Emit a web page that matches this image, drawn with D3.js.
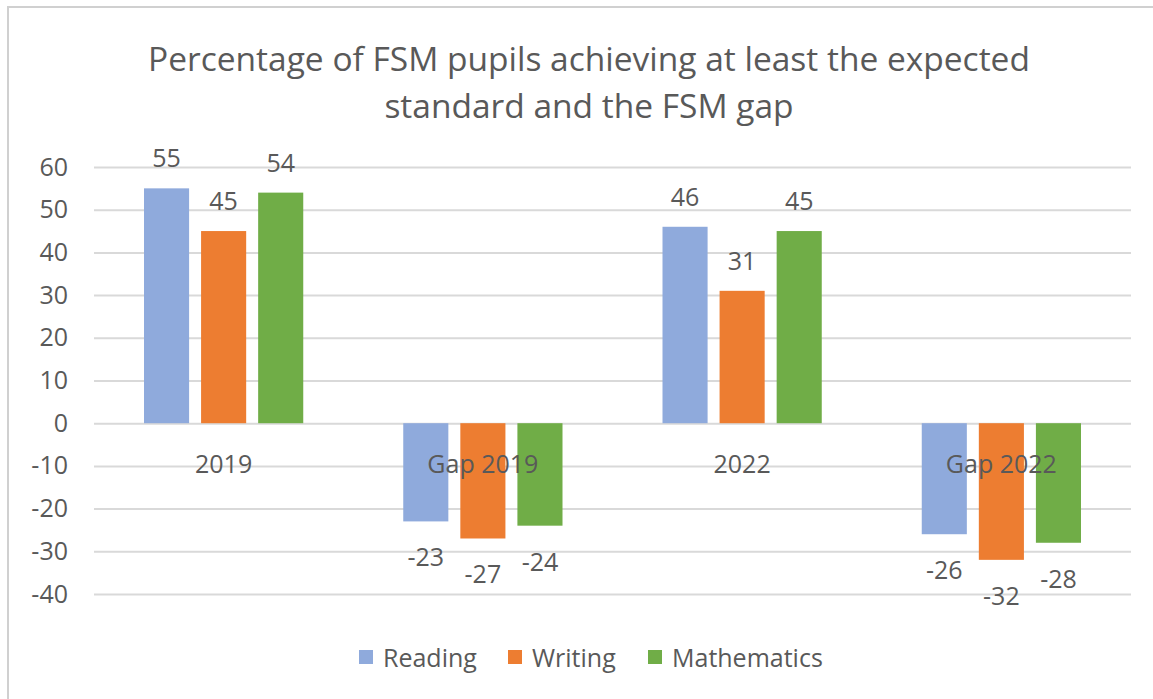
<!DOCTYPE html>
<html>
<head>
<meta charset="utf-8">
<script src="https://cdn.jsdelivr.net/npm/d3@7"></script>
<style>
  body { margin: 0; background: #fff; }
  svg text { font-family: "Open Sans", sans-serif; fill: #595959; }
</style>
</head>
<body>
<div id="chart"></div>
<script>
// Daten
const categories = ['2019', 'Gap 2019', '2022', 'Gap 2022'];
const seriesNames = ['Reading', 'Writing', 'Mathematics'];
const seriesColors = ['#8faadc', '#ed7d31', '#70ad47'];
const reading = [55, -23, 46, -26];
const writing = [45, -27, 31, -32];
const mathematics = [54, -24, 45, -28];
const yTicks = [60, 50, 40, 30, 20, 10, 0, -10, -20, -30, -40];
const titleLines = ['Percentage of FSM pupils achieving at least the expected', 'standard and the FSM gap'];

const W = 1153, H = 699;
const plot = { left: 94, right: 1131, top: 167, bottom: 594 };
const FS = '25px';

const svg = d3.select('#chart').append('svg')
  .attr('width', W).attr('height', H);

// Rahmen (nur oben/links sichtbar)
svg.append('rect')
  .attr('x', 8).attr('y', 7)
  .attr('width', W + 20).attr('height', H + 20)
  .attr('fill', 'none').attr('stroke', '#d0d0d0').attr('stroke-width', 2);

// Titel
svg.append('g').selectAll('text')
  .data(titleLines).enter().append('text')
    .attr('x', 589).attr('y', (_, i) => 58 + i * 47)
    .attr('text-anchor', 'middle').attr('dominant-baseline', 'central')
    .style('font-size', '33.5px')
    .text(d => d);

// Skalen
const y = d3.scaleLinear().domain([-40, 60]).range([plot.bottom, plot.top]);
const x0 = d3.scaleBand().domain(categories).range([plot.left, plot.right]).paddingInner(0).paddingOuter(0);
const x1 = d3.scaleBand().domain(seriesNames).range([50, x0.bandwidth() - 50]).paddingInner(0.21);

// Raster
svg.append('g')
  .attr('transform', `translate(${plot.left},0)`)
  .call(d3.axisLeft(y).tickValues(yTicks).tickSize(-(plot.right - plot.left)).tickFormat(''))
  .call(g => g.select('.domain').remove())
  .call(g => g.selectAll('line').attr('stroke', '#d9d9d9').attr('stroke-width', 2));

// Y-Achsenbeschriftung
svg.append('g')
  .attr('transform', `translate(${plot.left},0)`)
  .call(d3.axisLeft(y).tickValues(yTicks).tickSize(0).tickPadding(26).tickFormat(d => String(d)))
  .call(g => g.select('.domain').remove())
  .call(g => g.selectAll('text').style('font-size', FS).attr('fill', '#595959'));

// Balken
const series = [reading, writing, mathematics];
const rows = [];
series.forEach((vals, s) => vals.forEach((v, c) => rows.push({ s, c, v })));

const bars = svg.append('g');
bars.selectAll('rect').data(rows).enter().append('rect')
  .attr('x', d => x0(categories[d.c]) + x1(seriesNames[d.s]))
  .attr('y', d => y(Math.max(0, d.v)))
  .attr('width', x1.bandwidth())
  .attr('height', d => Math.abs(y(d.v) - y(0)))
  .attr('fill', d => seriesColors[d.s]);

// Kategorien (unter der Nulllinie)
svg.append('g').selectAll('text')
  .data(categories).enter().append('text')
    .attr('x', d => x0(d) + x0.bandwidth() / 2)
    .attr('y', y(0) + 40)
    .attr('text-anchor', 'middle').attr('dominant-baseline', 'central')
    .style('font-size', FS)
    .text(d => d);

// Datenbeschriftungen
bars.selectAll('text').data(rows).enter().append('text')
  .attr('x', d => x0(categories[d.c]) + x1(seriesNames[d.s]) + x1.bandwidth() / 2)
  .attr('y', d => d.v >= 0 ? y(d.v) - 31 : y(d.v) + 35)
  .attr('text-anchor', 'middle').attr('dominant-baseline', 'central')
  .style('font-size', FS)
  .text(d => d.v);

// Legende
const legendX = [359, 508, 648];
const legend = svg.append('g').selectAll('g')
  .data(seriesNames).enter().append('g')
    .attr('transform', (_, i) => `translate(${legendX[i]},657)`);
legend.append('rect')
  .attr('x', 0).attr('y', -7).attr('width', 14).attr('height', 14)
  .attr('fill', (_, i) => seriesColors[i]);
legend.append('text')
  .attr('x', 24).attr('y', 0).attr('dominant-baseline', 'central')
  .style('font-size', FS)
  .text(d => d);
</script>
</body>
</html>
